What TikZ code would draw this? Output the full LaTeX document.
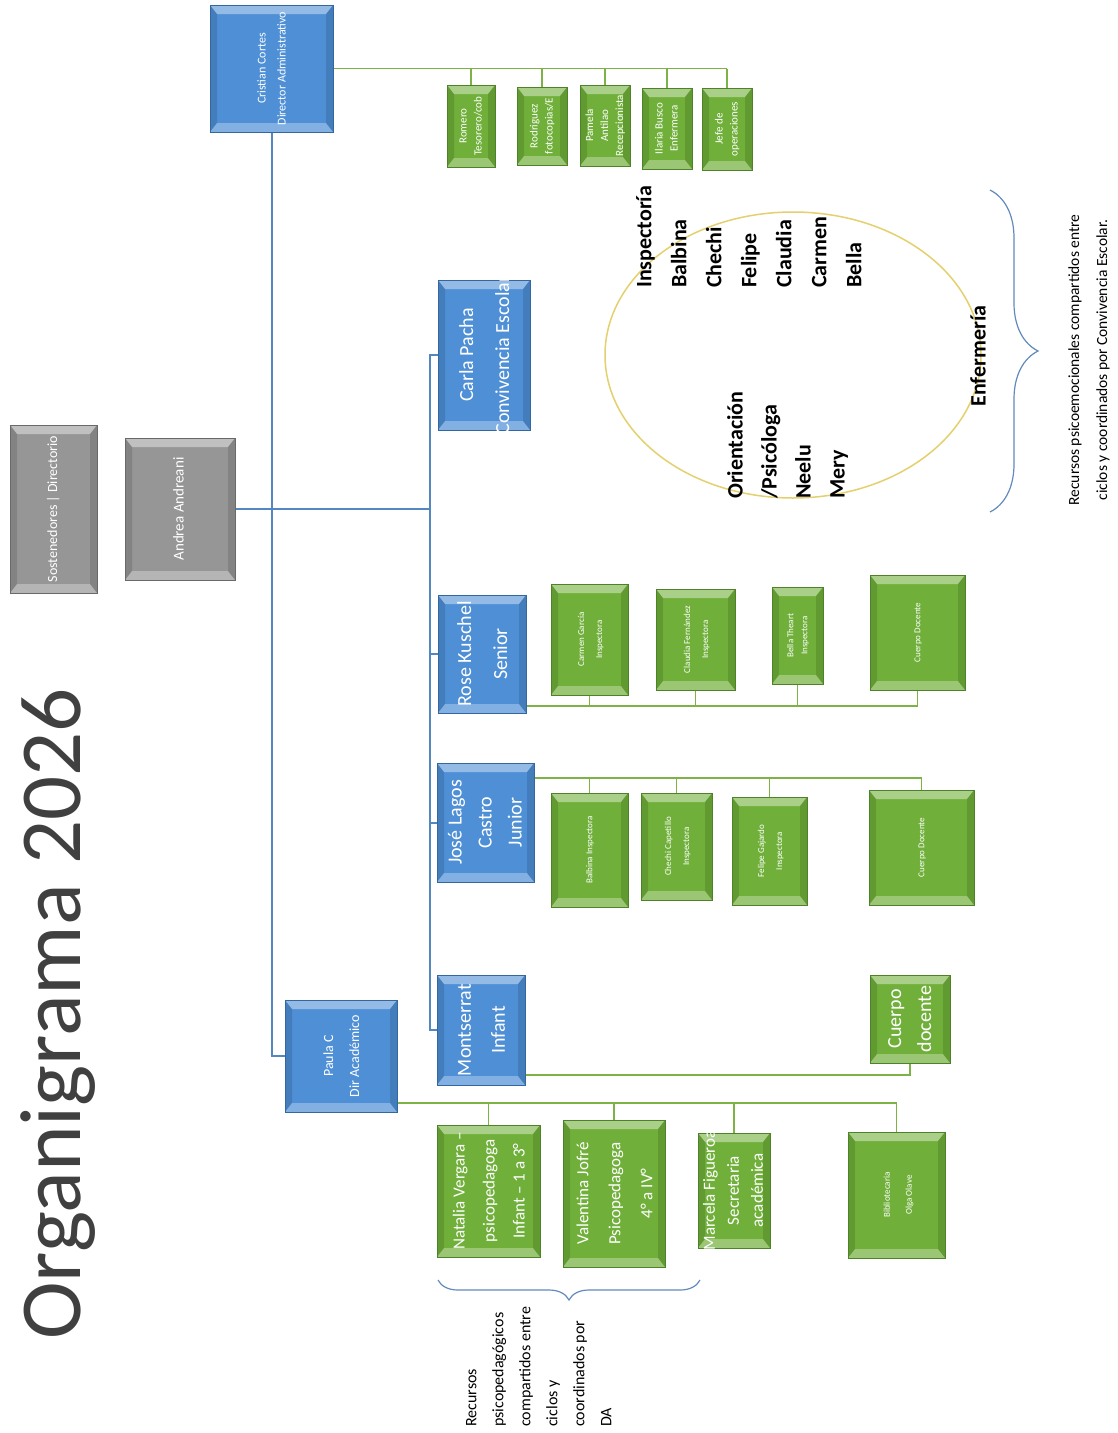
\documentclass[tikz,border=0pt]{standalone}
\usepackage{fontspec}
\setmainfont{Carlito}
\usepackage{graphicx}
\usetikzlibrary{decorations.pathreplacing}

\definecolor{azul}{RGB}{78,143,214}
\definecolor{azulosc}{RGB}{52,102,160}
\definecolor{verde}{RGB}{112,176,58}
\definecolor{verdeosc}{RGB}{78,130,40}
\definecolor{gris}{RGB}{150,150,150}
\definecolor{grisosc}{RGB}{105,105,105}
\definecolor{lineaazul}{RGB}{84,134,192}
\definecolor{lineaverde}{RGB}{125,178,70}
\definecolor{amarillo}{RGB}{228,208,110}
\definecolor{llavecol}{RGB}{98,138,188}

\newcommand{\vt}[1]{\rotatebox{90}{\makebox[0pt]{\begin{tabular}{@{}c@{}}#1\end{tabular}}}}
\newcommand{\fs}[2]{\fontsize{#1}{#2}\selectfont}

\tikzset{
  bisel/.style={path picture={
    \fill[white, opacity=0.4] (path picture bounding box.north west) -- (path picture bounding box.north east)
      -- ([xshift=-7pt,yshift=-9pt]path picture bounding box.north east) -- ([xshift=7pt,yshift=-9pt]path picture bounding box.north west) -- cycle;
    \fill[white, opacity=0.3] (path picture bounding box.south west) -- (path picture bounding box.south east)
      -- ([xshift=-7pt,yshift=9pt]path picture bounding box.south east) -- ([xshift=7pt,yshift=9pt]path picture bounding box.south west) -- cycle;
    \fill[black, opacity=0.12] (path picture bounding box.north west) -- ([xshift=7pt,yshift=-9pt]path picture bounding box.north west)
      -- ([xshift=7pt,yshift=9pt]path picture bounding box.south west) -- (path picture bounding box.south west) -- cycle;
    \fill[black, opacity=0.12] (path picture bounding box.north east) -- ([xshift=-7pt,yshift=-9pt]path picture bounding box.north east)
      -- ([xshift=-7pt,yshift=9pt]path picture bounding box.south east) -- (path picture bounding box.south east) -- cycle;
  }},
  caja/.style={draw, line width=1, inner sep=0pt, text=white, bisel},
  cajaazul/.style={caja, fill=azul, draw=azulosc},
  cajaverde/.style={caja, fill=verde, draw=verdeosc},
  cajagris/.style={caja, fill=gris, draw=grisosc},
  bline/.style={draw=lineaazul, line width=2},
  gline/.style={draw=lineaverde, line width=1.8},
  llave/.style={draw=llavecol, line width=1.2, decorate},
  texto/.style={rotate=90, inner sep=0pt}
}

\begin{document}
\begin{tikzpicture}[x=1pt, y=-1pt]
\fill[white] (0,0) rectangle (1118,1433);
\useasboundingbox (0,0) rectangle (1118,1433);

\node[texto, anchor=base west, font=\fs{87}{100}, text=black!75] (titulo) at (80,1340) {Organigrama 2026};

\node[cajagris, minimum width=87, minimum height=168, font=\fs{14}{18}] (sost) at (53.5,509) {\vt{Sostenedores | Directorio}};
\node[cajagris, minimum width=110, minimum height=142, font=\fs{15}{18}] (andrea) at (180,509) {\vt{Andrea Andreani}};

\node[cajaazul, minimum width=123, minimum height=127, font=\fs{12}{20}] (cristian) at (271.5,68.5) {\vt{Cristian Cortes\\Director Administrativo}};
\node[cajaazul, minimum width=92, minimum height=150, font=\fs{20}{36}] (carla) at (484,355) {\vt{Carla Pacha\\Convivencia Escolar}};
\node[cajaazul, minimum width=88, minimum height=118, font=\fs{20}{36}] (rose) at (482,654) {\vt{Rose Kuschel\\Senior}};
\node[cajaazul, minimum width=97, minimum height=119, font=\fs{20}{30}] (jose) at (485.5,822.5) {\vt{José Lagos\\Castro\\Junior}};
\node[cajaazul, minimum width=88, minimum height=110, font=\fs{20}{34}] (montse) at (481,1030) {\vt{Montserrat\\Infant}};
\node[cajaazul, minimum width=112, minimum height=112, font=\fs{14}{26}] (paula) at (341,1056) {\vt{Paula C\\Dir Académico}};

\node[cajaverde, minimum width=48, minimum height=82, font=\fs{11}{15}] (romero) at (471,126) {\vt{Romero\\Tesorero/cob}};
\node[cajaverde, minimum width=50, minimum height=78, font=\fs{11}{15}] (rodriguez) at (542,126) {\vt{Rodriguez\\fotocopias/E}};
\node[cajaverde, minimum width=50, minimum height=81, font=\fs{11}{15}] (pamela) at (605,125.5) {\vt{Pamela\\Antilao\\Recepcionista}};
\node[cajaverde, minimum width=50, minimum height=81, font=\fs{11}{15}] (ilaria) at (667,128.5) {\vt{Ilaria Busco\\Enfermera}};
\node[cajaverde, minimum width=50, minimum height=82, font=\fs{11}{15}] (jefe) at (727,129) {\vt{Jefe de\\operaciones}};

\node[cajaverde, minimum width=77, minimum height=111, font=\fs{9}{18}] (carmen) at (589.5,639.5) {\vt{Carmen García\\Inspectora}};
\node[cajaverde, minimum width=79, minimum height=101, font=\fs{9}{18}] (claudia) at (695.5,639.5) {\vt{Claudia Fernández\\Inspectora}};
\node[cajaverde, minimum width=51, minimum height=97, font=\fs{9}{14}] (bella) at (797.5,635.5) {\vt{Bella Theart\\Inspectora}};
\node[cajaverde, minimum width=95, minimum height=115, font=\fs{9}{14}] (docsen) at (917.5,632.5) {\vt{Cuerpo Docente}};

\node[cajaverde, minimum width=77, minimum height=114, font=\fs{9}{14}] (balbina) at (589.5,850) {\vt{Balbina Inspectora}};
\node[cajaverde, minimum width=71, minimum height=107, font=\fs{9}{18}] (chechi) at (676.5,846.5) {\vt{Chechi Capetillo\\Inspectora}};
\node[cajaverde, minimum width=75, minimum height=108, font=\fs{9}{18}] (felipe) at (769.5,851) {\vt{Felipe Gajardo\\Inspectora}};
\node[cajaverde, minimum width=105, minimum height=115, font=\fs{9}{14}] (docjun) at (921.5,847.5) {\vt{Cuerpo Docente}};

\node[cajaverde, minimum width=80, minimum height=88, font=\fs{20}{30}] (docinf) at (910,1019) {\vt{Cuerpo\\docente}};

\node[cajaverde, minimum width=103, minimum height=132, font=\fs{17}{30}] (natalia) at (488.5,1191) {\vt{Natalia Vergara –\\psicopedagoga\\Infant – 1 a 3°}};
\node[cajaverde, minimum width=102, minimum height=147, font=\fs{17}{32}] (valentina) at (614,1193.5) {\vt{Valentina Jofré\\Psicopedagoga\\4° a IV°}};
\node[cajaverde, minimum width=72, minimum height=115, font=\fs{17}{24}] (marcela) at (734,1190.5) {\vt{Marcela Figueroa\\Secretaria\\académica}};
\node[cajaverde, minimum width=97, minimum height=126, font=\fs{9}{22}] (biblio) at (896.5,1195) {\vt{Bibliotecaria\\Olga Olave}};

\coordinate (nudo) at (430,509);
\draw[bline] (andrea.east) -- (nudo);
\draw[bline] (carla.west) -- (carla.west -| nudo) -- (montse.west -| nudo) -- (montse.west);
\draw[bline] (rose.west -| nudo) -- (rose.west);
\draw[bline] (jose.west -| nudo) -- (jose.west);
\draw[bline] (cristian.south) |- (paula.west);

\draw[gline] (cristian.east) -- (cristian.east -| jefe.north);
\foreach \n in {romero,rodriguez,pamela,ilaria,jefe}
  \draw[gline] (\n.north) -- (\n.north |- cristian.east);

\draw[gline] (rose.east |- 0,706) -- (docsen.south |- 0,706);
\foreach \n in {carmen,claudia,bella,docsen}
  \draw[gline] (\n.south) -- (\n.south |- 0,706);

\draw[gline] (jose.east |- 0,778) -- (docjun.north |- 0,778);
\foreach \n in {balbina,chechi,felipe,docjun}
  \draw[gline] (\n.north) -- (\n.north |- 0,778);

\draw[gline] (montse.east |- 0,1075) -| (docinf.south);

\draw[gline] (paula.east |- 0,1103) -- (biblio.north |- 0,1103);
\foreach \n in {natalia,valentina,marcela,biblio}
  \draw[gline] (\n.north) -- (\n.north |- 0,1103);

\draw[amarillo, line width=1.5] (793,355) ellipse [x radius=188, y radius=143];
\node[texto, anchor=north west, align=left, font=\bfseries\fs{22}{35}] (insp) at (636,288) {Inspectoría\\Balbina\\Chechi\\Felipe\\Claudia\\Carmen\\Bella};
\node[texto, anchor=north west, align=left, font=\bfseries\fs{22}{34}] (orient) at (727,499) {Orientación\\/Psicóloga\\Neelu\\Mery};
\node[texto, font=\bfseries\fs{22}{24}] (enf) at (978,356) {Enfermería};

\draw[llave, decoration={brace, amplitude=48pt}] (990,190) -- (990,512);
\node[texto, align=center, font=\fs{15.5}{28}] (recemo) at (1089,360) {Recursos psicoemocionales compartidos entre\\ciclos y coordinados por Convivencia Escolar.};

\draw[llave, decoration={brace, amplitude=20pt}] (700,1280) -- (438,1280);
\node[texto, anchor=north west, align=left, font=\fs{16}{27}] (recped) at (466,1427) {Recursos\\psicopedagógicos\\compartidos entre\\ciclos y\\coordinados por\\DA};
\end{tikzpicture}
\end{document}
